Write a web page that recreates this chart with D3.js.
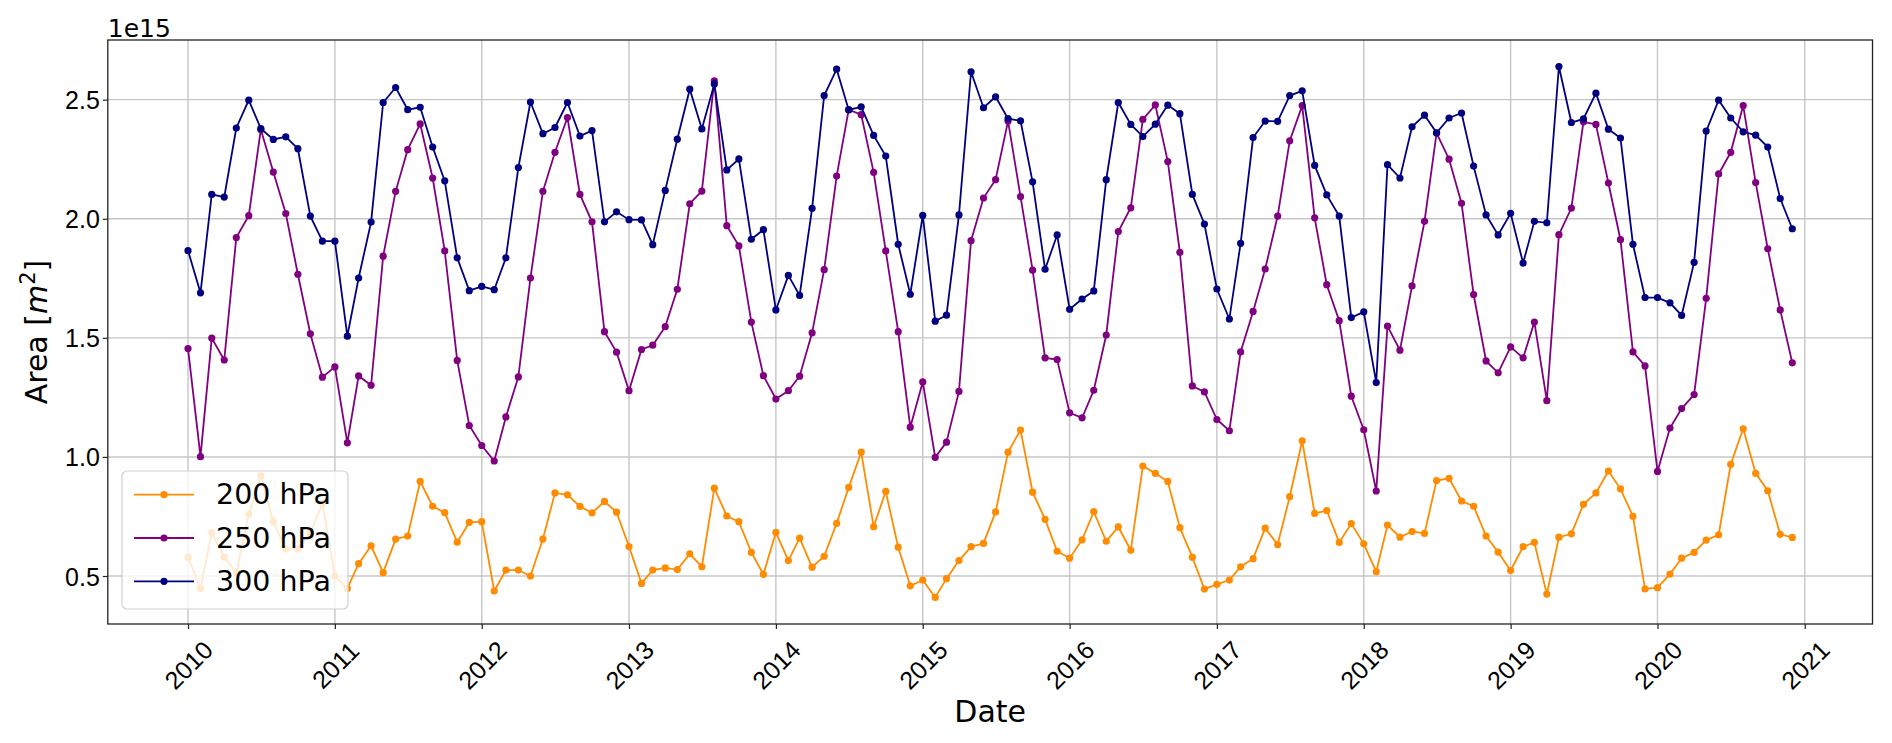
<!DOCTYPE html>
<html>
<head>
<meta charset="utf-8">
<script src="https://cdn.jsdelivr.net/npm/d3@7"></script>
<style>
body{margin:0;background:#fff}
svg{font-family:"DejaVu Sans",sans-serif}
</style>
</head>
<body>
<div id="chart"></div>
<script>
// monthly values, units of 1e15 m^2, Jan 2010 .. Dec 2020
var startYear = 2010
var nMonths = 132
var yearTicks = [2010,2011,2012,2013,2014,2015,2016,2017,2018,2019,2020,2021]
var yTicks = [0.5,1.0,1.5,2.0,2.5]
var seriesNames = ["200 hPa","250 hPa","300 hPa"]
var seriesColors = ["#ff8c00","#800080","#000080"]

var hpa200 = [0.579,0.448,0.682,0.579,0.514,0.760,0.921,0.727,0.614,0.614,0.682,0.804,
	0.500,0.448,0.552,0.627,0.514,0.655,0.668,0.897,0.793,0.766,0.642,0.725,
	0.728,0.437,0.525,0.525,0.500,0.655,0.849,0.841,0.792,0.765,0.813,0.768,
	0.624,0.469,0.525,0.534,0.527,0.593,0.539,0.869,0.752,0.728,0.599,0.507,
	0.683,0.565,0.659,0.537,0.583,0.721,0.872,1.020,0.707,0.855,0.621,0.459,
	0.483,0.410,0.489,0.565,0.623,0.637,0.769,1.020,1.113,0.852,0.738,0.604,
	0.575,0.652,0.770,0.646,0.706,0.608,0.962,0.931,0.897,0.703,0.579,0.445,
	0.465,0.483,0.539,0.573,0.701,0.632,0.833,1.068,0.763,0.775,0.641,0.720,
	0.635,0.518,0.714,0.663,0.687,0.679,0.901,0.910,0.815,0.793,0.668,0.600,
	0.523,0.623,0.641,0.424,0.663,0.677,0.801,0.849,0.941,0.866,0.751,0.446,
	0.451,0.508,0.575,0.599,0.651,0.673,0.969,1.118,0.931,0.858,0.675,0.662]

var hpa250 = [1.455,1.001,1.499,1.407,1.921,2.013,2.375,2.196,2.022,1.767,1.517,1.335,
	1.378,1.059,1.340,1.301,1.843,2.115,2.290,2.398,2.171,1.865,1.405,1.132,
	1.048,0.983,1.168,1.336,1.751,2.115,2.279,2.425,2.102,1.987,1.526,1.440,
	1.278,1.451,1.469,1.547,1.704,2.063,2.116,2.579,1.971,1.886,1.566,1.341,
	1.243,1.278,1.339,1.521,1.786,2.179,2.458,2.437,2.195,1.865,1.526,1.125,
	1.315,0.998,1.062,1.275,1.908,2.087,2.164,2.410,2.093,1.784,1.416,1.409,
	1.185,1.164,1.280,1.512,1.946,2.046,2.417,2.478,2.240,1.859,1.298,1.273,
	1.157,1.110,1.441,1.611,1.789,2.011,2.327,2.475,2.004,1.723,1.572,1.255,
	1.114,0.857,1.549,1.448,1.718,1.989,2.360,2.250,2.065,1.682,1.403,1.353,
	1.462,1.416,1.566,1.236,1.933,2.045,2.407,2.396,2.150,1.912,1.441,1.382,
	0.939,1.121,1.203,1.262,1.666,2.188,2.279,2.475,2.152,1.874,1.617,1.395]

var hpa300 = [1.866,1.689,2.102,2.091,2.381,2.498,2.378,2.333,2.344,2.294,2.011,1.906,
	1.906,1.507,1.751,1.986,2.488,2.551,2.458,2.468,2.301,2.159,1.836,1.698,
	1.716,1.702,1.836,2.215,2.490,2.357,2.383,2.488,2.347,2.370,1.987,2.029,
	1.996,1.995,1.891,2.119,2.334,2.544,2.377,2.566,2.205,2.251,1.914,1.954,
	1.617,1.762,1.678,2.044,2.517,2.628,2.457,2.470,2.350,2.263,1.893,1.683,
	2.014,1.570,1.595,2.016,2.617,2.466,2.512,2.420,2.411,2.155,1.788,1.932,
	1.620,1.663,1.697,2.164,2.488,2.396,2.345,2.397,2.477,2.441,2.102,1.978,
	1.705,1.579,1.897,2.341,2.410,2.409,2.517,2.537,2.224,2.100,2.011,1.585,
	1.609,1.312,2.227,2.171,2.386,2.435,2.361,2.423,2.444,2.221,2.016,1.932,
	2.023,1.814,1.989,1.983,2.639,2.404,2.419,2.527,2.376,2.339,1.893,1.669,
	1.669,1.647,1.594,1.817,2.368,2.498,2.423,2.365,2.351,2.301,2.085,1.958]

var W = 1892, H = 743
// plot box (named so they don't clash with window.top)
var pLeft = 107.8, pRight = 1872.5, pTop = 40, pBottom = 624

var dates = d3.range(nMonths).map(function(m){ return new Date(Date.UTC(startYear, m, 1)) })
var allSeries = [hpa200, hpa250, hpa300]

// matplotlib style 5% margins
var t0 = +dates[0], t1 = +dates[nMonths-1], dt = (t1-t0)*0.05
var vAll = d3.merge(allSeries)
var vMin = d3.min(vAll), vMax = d3.max(vAll), dv = (vMax-vMin)*0.05

var x = d3.scaleUtc().domain([new Date(t0-dt), new Date(t1+dt)]).range([pLeft, pRight])
var y = d3.scaleLinear().domain([vMin-dv, vMax+dv]).range([pBottom, pTop])

var svg = d3.select("#chart").append("svg").attr("width",W).attr("height",H)

// grid
var grid = svg.append("g")
grid.selectAll(".gx").data(yearTicks).enter().append("line")
	.attr("x1",function(d){return x(new Date(Date.UTC(d,0,1)))})
	.attr("x2",function(d){return x(new Date(Date.UTC(d,0,1)))})
	.attr("y1",pTop).attr("y2",pBottom)
	.attr("stroke","#c6c6c6").attr("stroke-width",1.4)
grid.selectAll(".gy").data(yTicks).enter().append("line")
	.attr("x1",pLeft).attr("x2",pRight)
	.attr("y1",function(d){return y(d)}).attr("y2",function(d){return y(d)})
	.attr("stroke","#c6c6c6").attr("stroke-width",1.4)

// series
var line = d3.line().x(function(d,i){return x(dates[i])}).y(function(d){return y(d)})
allSeries.forEach(function(s,k){
	var g = svg.append("g")
	g.append("path").datum(s).attr("d",line)
		.attr("fill","none").attr("stroke",seriesColors[k]).attr("stroke-width",1.8)
	g.selectAll("circle").data(s).enter().append("circle")
		.attr("cx",function(d,i){return x(dates[i])})
		.attr("cy",function(d){return y(d)})
		.attr("r",3.6).attr("fill",seriesColors[k])
})

// axes
var xAxis = d3.axisBottom(x)
	.tickValues(yearTicks.map(function(d){return new Date(Date.UTC(d,0,1))}))
	.tickFormat(d3.utcFormat("%Y")).tickSize(5).tickPadding(0)
var gx = svg.append("g").attr("transform","translate(0,"+pBottom+")").call(xAxis)
gx.select(".domain").remove()
gx.selectAll("line").attr("stroke","#222").attr("stroke-width",1.2)
gx.selectAll("text")
	.attr("font-size",25).attr("fill","#000")
	.attr("text-anchor","middle").attr("dominant-baseline","central")
	.attr("y",41).attr("dy",null)
	.attr("transform","rotate(-45,0,41)")

var yAxis = d3.axisLeft(y).tickValues(yTicks).tickFormat(d3.format(".1f")).tickSize(5).tickPadding(0)
var gy = svg.append("g").attr("transform","translate("+pLeft+",0)").call(yAxis)
gy.select(".domain").remove()
gy.selectAll("line").attr("stroke","#222").attr("stroke-width",1.2)
gy.selectAll("text").attr("font-size",25).attr("fill","#000")
	.attr("x",-8).attr("dy",null).attr("dominant-baseline","central")

svg.append("rect").attr("x",pLeft).attr("y",pTop)
	.attr("width",pRight-pLeft).attr("height",pBottom-pTop)
	.attr("fill","none").attr("stroke","#222").attr("stroke-width",1.3)

// offset text and labels
svg.append("text").attr("x",pLeft).attr("y",37).attr("font-size",25).text("1e15")

svg.append("text").attr("x",(pLeft+pRight)/2).attr("y",722)
	.attr("text-anchor","middle").attr("font-size",30).text("Date")

var yl = svg.append("text").attr("transform","translate(47,"+((pTop+pBottom)/2)+") rotate(-90)")
	.attr("text-anchor","middle").attr("font-size",30)
yl.append("tspan").text("Area [")
yl.append("tspan").attr("font-style","italic").text("m")
yl.append("tspan").attr("font-size",21).attr("dy",-12).text("2")
yl.append("tspan").attr("dy",12).text("]")

// legend
var lg = svg.append("g")
lg.append("rect").attr("x",122).attr("y",471).attr("width",226).attr("height",138)
	.attr("rx",5).attr("fill","#fff").attr("fill-opacity",0.8)
	.attr("stroke","#d0d0d0").attr("stroke-width",1.2)
seriesNames.forEach(function(name,k){
	var cy = 494.7 + k*43.3
	lg.append("line").attr("x1",134).attr("x2",194).attr("y1",cy).attr("y2",cy)
		.attr("stroke",seriesColors[k]).attr("stroke-width",1.8)
	lg.append("circle").attr("cx",164).attr("cy",cy).attr("r",3.6).attr("fill",seriesColors[k])
	lg.append("text").attr("x",216).attr("y",cy).attr("dominant-baseline","central")
		.attr("font-size",28.5).text(name)
})
</script>
</body>
</html>
